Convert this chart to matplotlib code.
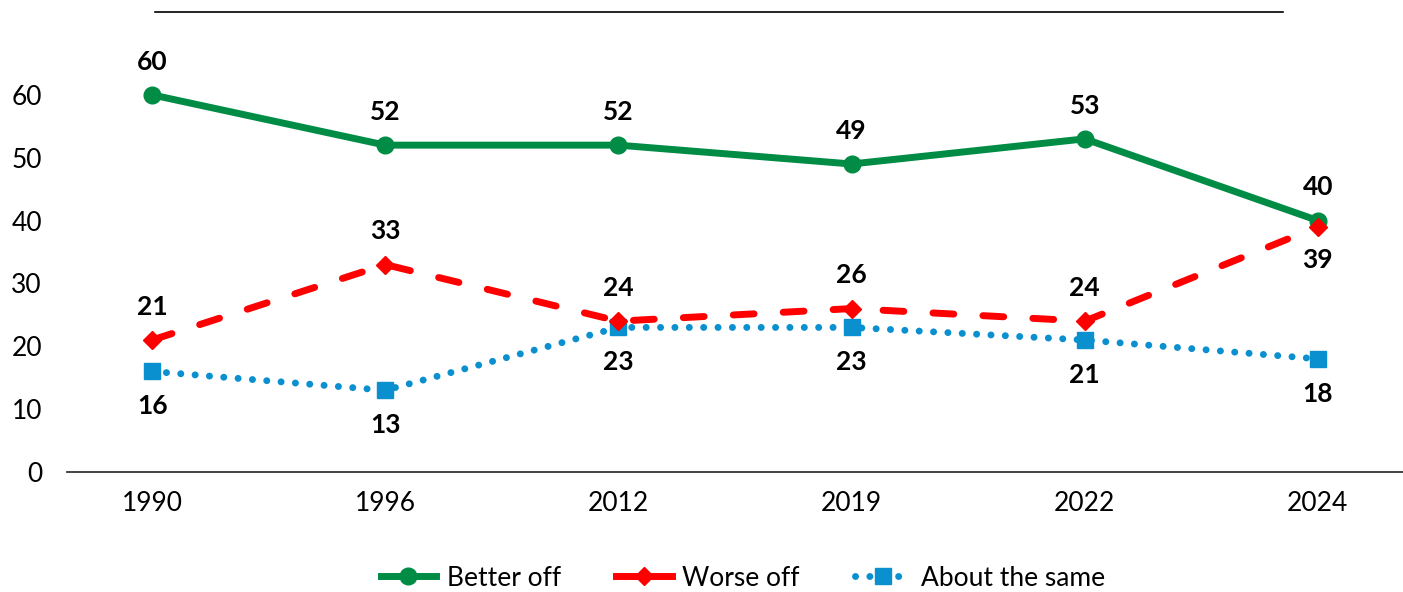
import matplotlib
matplotlib.use("Agg")
import matplotlib.pyplot as plt
from matplotlib.lines import Line2D

years = ["1990", "1996", "2012", "2019", "2022", "2024"]
better = [60, 52, 52, 49, 53, 40]
worse = [21, 33, 24, 26, 24, 39]
same = [16, 13, 23, 23, 21, 18]
worse_pos = ["above", "above", "above", "above", "above", "below"]

plt.rcParams['font.family'] = ['Lato', 'DejaVu Sans']

fig = plt.figure(figsize=(14.03, 5.92), dpi=100)
ax = fig.add_axes([67/1403, 1-472/592, 1336/1403, 440/592])

x = list(range(len(years)))
green = "#008C45"
red = "#FF0000"
blue = "#0A8FCF"

red_dash = (3.0, 4.2)
blue_dot = (0.01, 2.06)

ax.plot(x, better, color=green, lw=5, marker='o', ms=12, solid_capstyle='round', zorder=3)
ax.plot(x, worse, color=red, lw=5, marker='D', ms=9, dashes=red_dash, dash_capstyle='round', zorder=4)
ax.plot(x, same, color=blue, lw=5, marker='s', ms=12, dashes=blue_dot, dash_capstyle='round', zorder=2)

fs = 19
for i, v in enumerate(better):
    ax.annotate(str(v), (i, v), xytext=(0, 24), textcoords='offset points', ha='center', va='center',
                fontsize=fs, fontweight='bold')
for i, v in enumerate(worse):
    off = 24 if worse_pos[i] == "above" else -24
    ax.annotate(str(v), (i, v), xytext=(0, off), textcoords='offset points', ha='center', va='center',
                fontsize=fs, fontweight='bold')
for i, v in enumerate(same):
    ax.annotate(str(v), (i, v), xytext=(0, -25), textcoords='offset points', ha='center', va='center',
                fontsize=fs, fontweight='bold')

ax.set_xlim(-0.365, 5.365)
ax.set_ylim(0, 70)
ax.set_yticks([0, 10, 20, 30, 40, 50, 60])
ax.set_xticks(x)
ax.set_xticklabels(years)
ax.tick_params(axis='y', length=0, pad=18, labelsize=fs)
ax.tick_params(axis='x', length=0, pad=14, labelsize=fs)
for s in ['top', 'right', 'left']:
    ax.spines[s].set_visible(False)
ax.spines['bottom'].set_linewidth(1.2)
ax.spines['bottom'].set_color('#222222')

# top rule
fig.add_artist(Line2D([155/1403, 1283/1403], [1-12/592, 1-12/592], color='black', lw=1.2))

handles = [
    Line2D([], [], color=green, lw=5, marker='o', ms=12),
    Line2D([], [], color=red, lw=5, marker='D', ms=9),
    Line2D([], [], color=blue, lw=5, marker='s', ms=12, dashes=blue_dot, dash_capstyle='round'),
]
fig.legend(handles, ["Better off", "Worse off", "About the same"], loc='center',
           bbox_to_anchor=(743/1403, 1-578/592), ncol=3, frameon=False, fontsize=fs,
           handlelength=2.1, columnspacing=2.1, handletextpad=0.4)

fig.savefig("out.png", dpi=100)
